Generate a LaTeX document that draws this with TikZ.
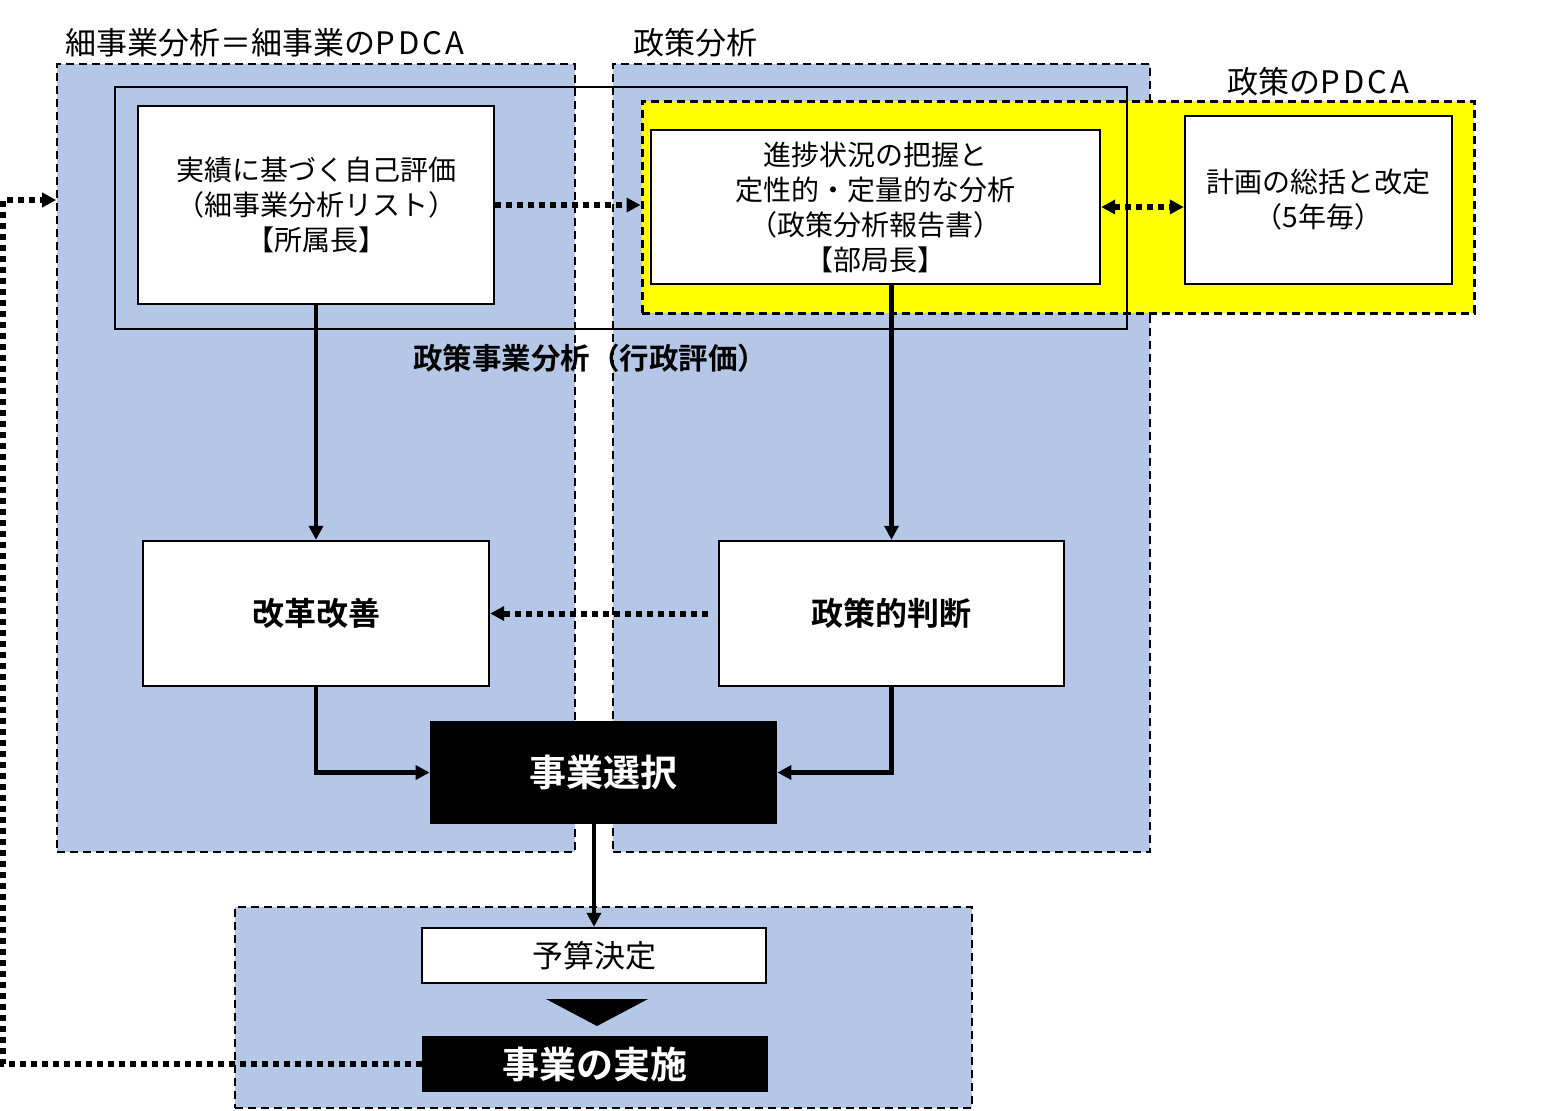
\documentclass[tikz,border=0pt]{standalone}
\usepackage{fontspec}
\setmainfont{Noto Sans CJK JP}[BoldFont={Noto Sans CJK JP Bold}]
\usepackage{xcolor}
\usepackage{tikz}
\usetikzlibrary{positioning,arrows.meta}

\definecolor{areablue}{HTML}{B4C7E7}
\definecolor{pdcayellow}{HTML}{FFFF00}
\newcommand{\wideabc}[1]{{\addfontfeature{LetterSpace=10}#1}}

\begin{document}
\begin{tikzpicture}[x=0.5pt, y=-0.5pt, >={Triangle[length=7pt,width=7pt]},
  area/.style={draw, fill=areablue, line width=0.8pt, dash pattern=on 4pt off 2.5pt, inner sep=0pt},
  box/.style={draw, fill=white, line width=1.2pt, align=center, inner sep=0pt,
    font=\fontsize{14pt}{17.5pt}\selectfont},
  blackbox/.style={fill=black, text=white, inner sep=0pt, font=\bfseries\fontsize{18.5pt}{20pt}\selectfont},
  flow/.style={->, line width=2.4pt},
  dotflow/.style={->, line width=3pt, dash pattern=on 3pt off 2.5pt},
  title/.style={anchor=west, inner sep=0pt, font=\fontsize{15.5pt}{17pt}\selectfont}]
\useasboundingbox (0,0) rectangle (1556,1110);

% blue areas
\node[area, minimum width=259pt, minimum height=394pt] (lbox) at (316,458) {};
\node[area, minimum width=268.5pt, minimum height=394pt] (rbox) at (881.5,458) {};
\node[area, minimum width=368.5pt, minimum height=100.5pt] (bbox) at (603.5,1007.5) {};

% yellow PDCA area and outer frame
\node[draw, fill=pdcayellow, line width=1.5pt, dash pattern=on 4pt off 2.5pt,
  minimum width=416pt, minimum height=106pt] (ybox) at (1058,207) {};
\node[draw, line width=1.2pt, minimum width=506pt, minimum height=121pt] (frame) at (621,208) {};

% titles
\node[title] (t1) at (65,43) {細事業分析＝細事業の\wideabc{PDCA}};
\node[title] (t2) at (633,43) {政策分析};
\node[title] (t3) at (1227,82) {政策の\wideabc{PDCA}};
\node[font=\bfseries\fontsize{14.75pt}{16pt}\selectfont, inner sep=0pt] (t4) at (590,358) {政策事業分析（行政評価）};

% top boxes
\node[box, minimum width=178pt, minimum height=99pt] (A) at (316,205)
  {実績に基づく自己評価\\（細事業分析リスト）\\【所属長】};
\node[box, minimum width=224.5pt, minimum height=77pt] (B) at (875.5,207)
  {進捗状況の把握と\\定性的・定量的な分析\\（政策分析報告書）\\【部局長】};
\node[box, minimum width=133.5pt, minimum height=84pt] (C) at (1318.5,200)
  {計画の総括と改定\\（5年毎）};

% middle boxes
\node[box, font=\bfseries\fontsize{16pt}{18pt}\selectfont, minimum width=173pt, minimum height=72.5pt] (K) at (316,613.5) {改革改善};
\node[box, font=\bfseries\fontsize{16pt}{18pt}\selectfont, minimum width=172.5pt, minimum height=72.5pt] (S) at (891.5,613.5) {政策的判断};
\node[blackbox, minimum width=173.5pt, minimum height=51.5pt] (J) at (603.5,772.5) {事業選択};

% bottom boxes
\node[box, font=\fontsize{15.5pt}{17pt}\selectfont, minimum width=172pt, minimum height=27.5pt] (Y) at (594,955.5) {予算決定};
\node[blackbox, minimum width=173pt, minimum height=28pt] (E) at (595,1064) {事業の実施};
\fill (546,999) -- (648,999) -- (597,1026) -- cycle;

% solid arrows
\draw[flow] (A.south) -- (K.north);
\draw[flow] (B.south -| S.north) -- (S.north);
\draw[flow] (K.south) |- (J.west);
\draw[flow] (S.south) |- (J.east);
\draw[flow] (J.south -| Y.north) -- (Y.north);

% dotted arrows
\draw[dotflow] (A.east) -- (A.east -| ybox.west);
\draw[dotflow, <->] (B.east) -- (B.east -| C.west);
\draw[dotflow, shorten <=5pt] (S.west) -- (K.east);
\coordinate (back) at (3,200);
\draw[dotflow] (E.west) -| (back) -- (back -| lbox.west);
\end{tikzpicture}
\end{document}
